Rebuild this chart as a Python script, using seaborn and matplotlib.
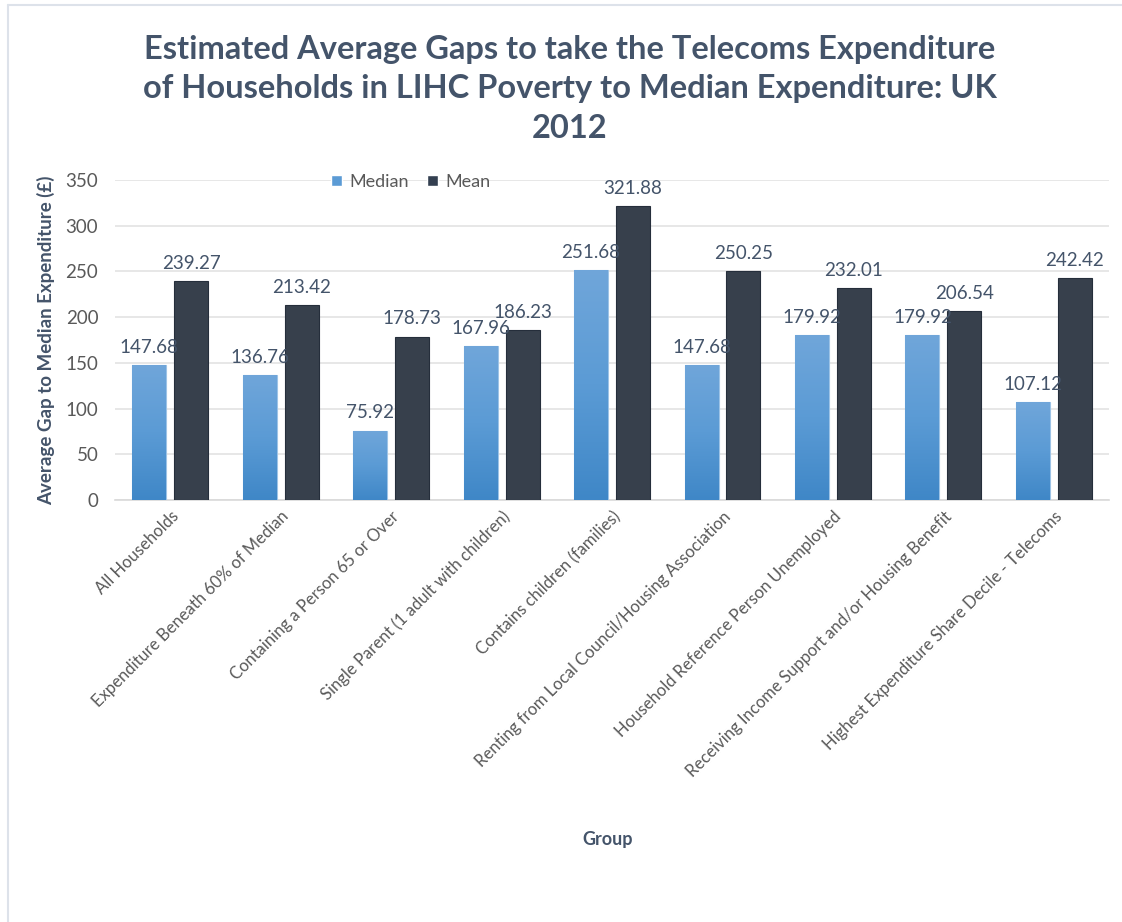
import numpy as np
import pandas as pd
import matplotlib
matplotlib.use("Agg")
import matplotlib.pyplot as plt
from matplotlib.colors import LinearSegmentedColormap
from matplotlib.lines import Line2D
from matplotlib.patches import Patch
import seaborn as sns

groups = [
    "All Households",
    "Expenditure Beneath 60% of Median",
    "Containing a Person 65 or Over",
    "Single Parent (1 adult with children)",
    "Contains children (families)",
    "Renting from Local Council/Housing Association",
    "Household Reference Person Unemployed",
    "Receiving Income Support and/or Housing Benefit",
    "Highest Expenditure Share Decile - Telecoms",
]
median_gap = [147.68, 136.76, 75.92, 167.96, 251.68, 147.68, 179.92, 179.92, 107.12]
mean_gap = [239.27, 213.42, 178.73, 186.23, 321.88, 250.25, 232.01, 206.54, 242.42]
series_names = ["Median", "Mean"]

df = pd.DataFrame({
    "Group": groups * 2,
    "Statistic": [series_names[0]] * len(groups) + [series_names[1]] * len(groups),
    "Gap": median_gap + mean_gap,
})

sns.set_theme(style="white")
plt.rcParams["font.family"] = ["Lato", "DejaVu Sans"]

TEXT = "#44546A"
TICK = "#595959"
MEDIAN_C = "#5B9BD5"
MEAN_C = "#333F50"

fig = plt.figure(figsize=(11.22, 9.22), dpi=100)
ax = fig.add_axes([0.1025, 0.4577, 0.886, 0.3471])

sns.barplot(data=df, x="Group", y="Gap", hue="Statistic", order=groups,
            hue_order=series_names, palette=[MEDIAN_C, MEAN_C],
            width=0.76, gap=0.19, ax=ax, legend=False, zorder=3)

# soft vertical gradient on the median bars
grad = LinearSegmentedColormap.from_list("med", ["#3F87C7", "#5B9BD5", "#70A6DA"])
gimg = np.linspace(0, 1, 256).reshape(-1, 1)
n = len(groups)
for p in ax.patches[:n]:
    x0, y0 = p.get_x(), p.get_y()
    w, h = p.get_width(), p.get_height()
    p.set_edgecolor("#9DC3E6")
    p.set_linewidth(0.8)
    im = ax.imshow(gimg, cmap=grad, origin="lower", aspect="auto",
                   extent=(x0, x0 + w, y0, y0 + h), zorder=3.5)
    im.set_clip_path(p)
for p in ax.patches[n:2 * n]:
    p.set_edgecolor("#252E3B")
    p.set_linewidth(0.8)

# value labels above each bar
for p, v in zip(ax.patches[:2 * n], median_gap + mean_gap):
    ax.text(p.get_x() + p.get_width() / 2, v + 10, f"{v:.2f}",
            ha="center", va="bottom", fontsize=13.5, color=TEXT, zorder=5)

ax.set_xlim(-0.5, n - 0.5)
ax.set_ylim(0, 350)
ax.set_yticks(np.arange(0, 351, 50))
ax.yaxis.grid(True, color="#E3E3E3", linewidth=1.2, zorder=0)
ax.set_axisbelow(True)
for s in ["top", "right", "left"]:
    ax.spines[s].set_visible(False)
ax.spines["bottom"].set_color("#D9D9D9")
ax.spines["bottom"].set_linewidth(1.2)
ax.tick_params(axis="y", length=0, labelsize=13.5, labelcolor=TICK, pad=12)
ax.tick_params(axis="x", length=0, labelsize=12, labelcolor=TICK, pad=6)
plt.setp(ax.get_xticklabels(), rotation=45, ha="right", rotation_mode="anchor")

ax.set_xlabel("Group", fontsize=13, fontweight="bold", color=TEXT)
ax.xaxis.set_label_coords(0.496, -1.035)
ax.set_ylabel("Average Gap to Median Expenditure (£)", fontsize=13.5,
              fontweight="bold", color=TEXT)
ax.yaxis.set_label_coords(-0.06, 0.5)

handles = [Patch(facecolor=MEDIAN_C), Patch(facecolor=MEAN_C)]
fig.legend(handles, series_names, loc="center", bbox_to_anchor=(0.366, 0.803),
           ncol=2, frameon=False, fontsize=13, handlelength=0.6,
           handleheight=0.6, handletextpad=0.4, columnspacing=1.0,
           labelcolor=TICK)

fig.text(0.508, 0.9035,
         "Estimated Average Gaps to take the Telecoms Expenditure\n"
         "of Households in LIHC Poverty to Median Expenditure: UK\n2012",
         ha="center", va="center", fontsize=23.5, fontweight="bold",
         color=TEXT, linespacing=1.45)

# thin frame around the chart area
fig.add_artist(Line2D([0.0071, 0.0071], [0.0, 0.9946], transform=fig.transFigure,
                      color="#DDE2EA", linewidth=1.5))
fig.add_artist(Line2D([0.0071, 1.0], [0.9946, 0.9946], transform=fig.transFigure,
                      color="#DDE2EA", linewidth=1.5))

fig.savefig("out.png", dpi=100)
